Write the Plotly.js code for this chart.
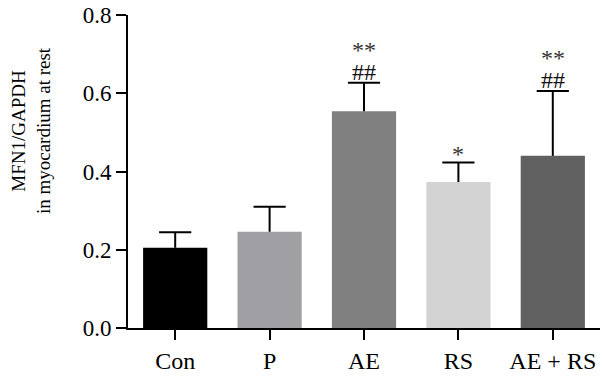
<!DOCTYPE html>
<html>
<head>
<meta charset="utf-8">
<script src="https://cdn.plot.ly/plotly-3.0.1.min.js"></script>
<style>
  html, body { margin: 0; padding: 0; background: #fff; }
  #chart { width: 600px; height: 376px; }
</style>
</head>
<body>
<div id="chart"></div>
<script>
// Data
const categories = ['Con', 'P', 'AE', 'RS', 'AE + RS'];
const values = [0.205, 0.246, 0.554, 0.373, 0.440];
const errors = [0.040, 0.064, 0.073, 0.050, 0.166];
const barColors = ['#000000', '#a0a0a4', '#808080', '#d3d3d3', '#606060'];
const sigStars = ['', '', '**', '*', '**'];
const sigHashes = ['', '', '##', '', '##'];
const yTickVals = [0, 0.2, 0.4, 0.6, 0.8];
const yTitleLines = ['MFN1/GAPDH', 'in myocardium at rest'];

const tops = values.map((v, i) => v + errors[i]);
const zeros = values.map(() => 0);

const serif = 'Liberation Serif';

const bars = {
  type: 'bar',
  x: categories,
  y: values,
  width: 0.68,
  marker: { color: barColors, line: { width: 0 } },
  error_y: {
    type: 'data', symmetric: false, array: errors, arrayminus: zeros,
    width: 0, thickness: 2, color: '#000'
  },
  hoverinfo: 'skip',
  showlegend: false
};

const caps = {
  type: 'scatter',
  mode: 'markers',
  x: categories,
  y: tops,
  marker: { symbol: 'line-ew', size: 23, color: '#000', line: { width: 2, color: '#000' } },
  hoverinfo: 'skip',
  showlegend: false
};

const annotations = [];
categories.forEach((c, i) => {
  if (sigHashes[i]) {
    annotations.push({
      x: c, y: tops[i], xref: 'x', yref: 'y', text: sigHashes[i],
      showarrow: false, yanchor: 'bottom', yshift: -4,
      font: { family: serif, size: 24, color: '#111' }
    });
  }
  if (sigStars[i]) {
    annotations.push({
      x: c, y: tops[i], xref: 'x', yref: 'y', text: sigStars[i],
      showarrow: false, yanchor: 'bottom', yshift: sigHashes[i] ? 18 : -6,
      font: { family: serif, size: 24, color: '#333' }
    });
  }
});

annotations.push({
  xref: 'paper', yref: 'paper', x: -0.205, y: 0.63,
  xanchor: 'center', yanchor: 'middle', textangle: -90,
  text: yTitleLines.join('<br>'), showarrow: false,
  font: { family: serif, size: 19, color: '#000' }
});

const layout = {
  width: 600, height: 376,
  margin: { l: 128, r: 0, t: 15, b: 47.5 },
  paper_bgcolor: '#fff', plot_bgcolor: '#fff',
  font: { family: serif },
  bargap: 0.32,
  xaxis: {
    type: 'category', range: [-0.5, 4.5],
    showline: true, linecolor: '#000', linewidth: 2,
    ticks: 'outside', ticklen: 10, tickwidth: 2, tickcolor: '#000',
    showgrid: false, zeroline: false,
    tickfont: { family: serif, size: 24, color: '#000' }
  },
  yaxis: {
    range: [0, 0.8], tickvals: yTickVals, tickformat: '.1f',
    showline: true, linecolor: '#000', linewidth: 2,
    ticks: 'outside', ticklen: 10, tickwidth: 2, tickcolor: '#000',
    showgrid: false, zeroline: false,
    tickfont: { family: serif, size: 23, color: '#000' }
  },
  annotations: annotations,
  showlegend: false
};

Plotly.newPlot('chart', [bars, caps], layout, { displayModeBar: false, staticPlot: true });
</script>
</body>
</html>
